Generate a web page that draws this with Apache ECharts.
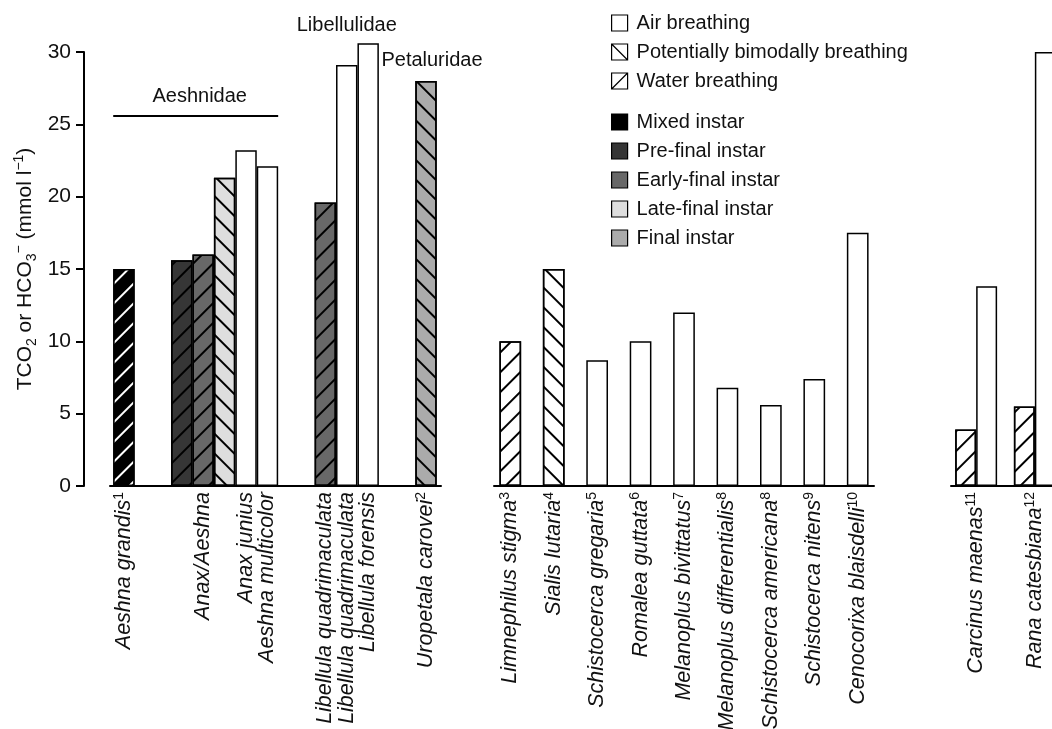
<!DOCTYPE html>
<html>
<head>
<meta charset="utf-8">
<script src="https://cdn.jsdelivr.net/npm/echarts@6/dist/echarts.min.js"></script>
<style>
  html, body { margin: 0; padding: 0; background: #ffffff; }
  #chart { width: 1052px; height: 729px; }
</style>
</head>
<body>
<div id="chart"></div>
<script>
// ---------- data ----------
const yTicks = [0, 5, 10, 15, 20, 25, 30];

const breathingModes = ['air', 'bimodal', 'water'];
const breathingNames = ['Air breathing', 'Potentially bimodally breathing', 'Water breathing'];
const instarStages = ['mixed', 'preFinal', 'earlyFinal', 'lateFinal', 'final'];
const instarNames = ['Mixed instar', 'Pre-final instar', 'Early-final instar', 'Late-final instar', 'Final instar'];

// Odonata
const odonataTaxa = ['Aeshna grandis', 'Anax/Aeshna', 'Anax junius', 'Aeshna multicolor',
  'Libellula quadrimaculata', 'Libellula quadrimaculata', 'Libellula forensis', 'Uropetala carovei'];
const odonataRefs = ['1', '', '', '', '', '', '', '2'];
const odonataFamily = ['Aeshnidae', 'Aeshnidae', 'Aeshnidae', 'Aeshnidae',
  'Libellulidae', 'Libellulidae', 'Libellulidae', 'Petaluridae'];
const odonataCluster = [0, 1, 1, 1, 2, 2, 2, 3];
const odonataValues = [[15.0], [15.6, 16.0, 21.3], [23.2], [22.1], [19.6], [29.1], [30.6], [28.0]];
const odonataInstar = [['mixed'], ['preFinal', 'earlyFinal', 'lateFinal'], ['none'], ['none'],
  ['earlyFinal'], ['none'], ['none'], ['final']];
const odonataBreathing = [['water'], ['water', 'water', 'bimodal'], ['air'], ['air'],
  ['water'], ['air'], ['air'], ['bimodal']];

// Other insects
const insectTaxa = ['Limnephilus stigma', 'Sialis lutaria', 'Schistocerca gregaria', 'Romalea guttata',
  'Melanoplus bivittatus', 'Melanoplus differentialis', 'Schistocerca americana', 'Schistocerca nitens',
  'Cenocorixa blaisdelli'];
const insectRefs = ['3', '4', '5', '6', '7', '8', '8', '9', '10'];
const insectValues = [10.0, 15.0, 8.7, 10.0, 12.0, 6.8, 5.6, 7.4, 17.5];
const insectBreathing = ['water', 'bimodal', 'air', 'air', 'air', 'air', 'air', 'air', 'air'];

// Crab and frog
const otherTaxa = ['Carcinus maenas', 'Rana catesbiana'];
const otherRefs = ['11', '12'];
const otherValues = [[3.9, 13.8], [5.5, 30.0]];
const otherBreathing = [['water', 'air'], ['water', 'air']];

// ---------- styling ----------
const FONT = '"Liberation Sans", Arial, Helvetica, sans-serif';
const INK = '#111111';
const instarFill = {
  none: '#ffffff', mixed: '#000000', preFinal: '#363636',
  earlyFinal: '#686868', lateFinal: '#dedede', final: '#ababab'
};
const hatchTurn = { air: 0, bimodal: 1, water: -1 };
// Legend keys: a box, with one diagonal for the hatched modes
const breathingIcon = {
  air: 'rect',
  bimodal: 'path://M0,0L16,0L16,16L0,16ZM0,0L16,16',
  water: 'path://M0,0L16,0L16,16L0,16ZM0,16L16,0'
};

function barStyle(instar, mode) {
  const style = {
    color: instarFill[instar],
    borderColor: '#000000',
    borderWidth: 1.5
  };
  const turn = hatchTurn[mode];
  if (turn) {
    style.decal = {
      symbol: 'rect', symbolSize: 1,
      color: instar === 'mixed' ? '#ffffff' : '#000000',
      dashArrayX: [1, 0], dashArrayY: [1.4, 11.4],
      rotation: turn * Math.PI / 4
    };
  }
  return style;
}

// ---------- panel geometry (in bar-width units) ----------
const panels = [
  { left: 110, width: 331, lead: 0.15, gap: 1.7, trail: 0.2 },
  { left: 494, width: 380, lead: 0.25, gap: 1.0, trail: 0.25 },
  { left: 951, width: 109, lead: 0.2, gap: 0.8, trail: 0.2 }
];
const GRID_TOP = 52, GRID_HEIGHT = 434;

// Place bars side by side; a new cluster starts after a gap.
function layoutPanel(values, clusters, cfg) {
  let x = cfg.lead, prev = null;
  const centers = [], labelAt = [], starts = [], ends = [];
  values.forEach((vals, t) => {
    if (prev !== null && clusters[t] !== prev) x += cfg.gap;
    prev = clusters[t];
    starts.push(x);
    vals.forEach((v, k) => { centers.push({ t, k, x: x + 0.5, v }); x += 1; });
    ends.push(x);
    labelAt.push((starts[t] + x) / 2);
  });
  return { centers, labelAt, starts, ends, span: x + cfg.trail };
}

function labelText(name, ref) {
  return ref ? '{it|' + name + '}{sup|' + ref + '}' : '{it|' + name + '}';
}

const panelData = [
  {
    values: odonataValues, clusters: odonataCluster,
    instar: odonataInstar, breathing: odonataBreathing,
    taxa: odonataTaxa, refs: odonataRefs
  },
  {
    values: insectValues.map(v => [v]), clusters: insectTaxa.map((_, i) => i),
    instar: insectValues.map(() => ['none']), breathing: insectBreathing.map(b => [b]),
    taxa: insectTaxa, refs: insectRefs
  },
  {
    values: otherValues, clusters: otherTaxa.map((_, i) => i),
    instar: otherValues.map(vs => vs.map(() => 'none')), breathing: otherBreathing,
    taxa: otherTaxa, refs: otherRefs
  }
];

const grids = [], xAxes = [], yAxes = [], series = [];
const layouts = [];

panelData.forEach((pd, p) => {
  const cfg = panels[p];
  const lay = layoutPanel(pd.values, pd.clusters, cfg);
  layouts.push(lay);
  const unitPx = cfg.width / lay.span;
  const labelMap = new Map();
  lay.labelAt.forEach((x, t) => labelMap.set(x.toFixed(4), labelText(pd.taxa[t], pd.refs[t])));

  grids.push({
    left: cfg.left, top: GRID_TOP, width: cfg.width, height: GRID_HEIGHT,
    containLabel: false, outerBoundsMode: 'none'
  });
  xAxes.push({
    type: 'value', gridIndex: p, min: 0, max: lay.span,
    axisLine: { show: true, onZero: false, lineStyle: { color: '#000', width: 2 } },
    axisTick: { show: false },
    splitLine: { show: false },
    axisLabel: {
      customValues: lay.labelAt,
      rotate: 90, margin: 6, color: INK, fontFamily: FONT,
      formatter: v => labelMap.get(Number(v).toFixed(4)) || '',
      rich: {
        it: { fontStyle: 'italic', fontSize: 21.5, fontFamily: FONT, color: INK, lineHeight: 24 },
        sup: { fontSize: 14, fontFamily: FONT, color: INK, verticalAlign: 'top', lineHeight: 21 }
      }
    }
  });
  yAxes.push(p === 0 ? {
    type: 'value', gridIndex: 0, min: 0, max: 30, interval: 5, offset: 26,
    axisLine: { show: true, onZero: false, lineStyle: { color: '#000', width: 2 } },
    axisTick: { show: true, length: 8, lineStyle: { color: '#000', width: 2 } },
    splitLine: { show: false },
    axisLabel: { fontSize: 21, color: INK, fontFamily: FONT, margin: 13,
      customValues: yTicks },
    name: 'TCO{sub|2} or HCO{sub|3}{sup|\u2212} (mmol l{sup|\u22121})',
    nameLocation: 'middle', nameRotate: 90, nameGap: 45,
    nameTextStyle: {
      fontSize: 21, color: INK, fontFamily: FONT, lineHeight: 27,
      rich: {
        sub: { fontSize: 14, fontFamily: FONT, color: INK, verticalAlign: 'bottom', lineHeight: 13 },
        sup: { fontSize: 14, fontFamily: FONT, color: INK, verticalAlign: 'top', lineHeight: 15 }
      }
    }
  } : {
    type: 'value', gridIndex: p, min: 0, max: 30, show: false
  });

  series.push({
    type: 'bar', xAxisIndex: p, yAxisIndex: p,
    barWidth: unitPx, silent: true, animation: false, clip: false,
    data: lay.centers.map(c => ({
      value: [c.x, c.v],
      itemStyle: barStyle(pd.instar[c.t][c.k], pd.breathing[c.t][c.k])
    }))
  });
});

// ---------- family annotations on the Odonata panel ----------
(function () {
  const lay = layouts[0];
  const famSpan = {};
  odonataFamily.forEach((f, t) => {
    if (!famSpan[f]) famSpan[f] = [lay.starts[t], lay.ends[t]];
    famSpan[f][1] = lay.ends[t];
  });
  const mid = f => (famSpan[f][0] + famSpan[f][1]) / 2;
  const ruleLevel = 25.6;
  series[0].markLine = {
    silent: true, symbol: 'none', animation: false,
    lineStyle: { color: '#000', width: 2, type: 'solid' },
    label: { show: false },
    data: [[{ coord: [famSpan.Aeshnidae[0], ruleLevel] }, { coord: [famSpan.Aeshnidae[1], ruleLevel] }]]
  };
  series[0].markPoint = {
    silent: true, symbol: 'rect', symbolSize: 0, animation: false,
    label: { show: true, position: 'inside', formatter: '{b}', color: INK, fontSize: 20, fontFamily: FONT },
    data: [
      { name: 'Aeshnidae', coord: [mid('Aeshnidae'), ruleLevel], label: { offset: [4, -19] } },
      { name: 'Libellulidae', coord: [mid('Libellulidae'), 30], label: { offset: [0, -27] } },
      { name: 'Petaluridae', coord: [mid('Petaluridae'), 30], label: { offset: [6, 8] } }
    ]
  };
})();

// ---------- legend keys (hidden grid) ----------
grids.push({ left: 0, top: 0, width: 1, height: 1, show: false });
xAxes.push({ type: 'category', gridIndex: 3, data: ['k'], show: false });
yAxes.push({ type: 'value', gridIndex: 3, show: false });
breathingModes.forEach((m, i) => {
  series.push({ type: 'bar', name: breathingNames[i], xAxisIndex: 3, yAxisIndex: 3, data: [],
    itemStyle: barStyle('none', 'air') });
});
instarStages.forEach((s, i) => {
  series.push({ type: 'bar', name: instarNames[i], xAxisIndex: 3, yAxisIndex: 3, data: [],
    itemStyle: barStyle(s, 'air') });
});

const legendCommon = {
  orient: 'vertical', left: 611, icon: 'rect', itemWidth: 16, itemHeight: 16, itemGap: 9,
  selectedMode: false, padding: 0,
  textStyle: { fontSize: 20, color: INK, fontFamily: FONT, padding: [0, 0, 0, 4] },
  itemStyle: { borderColor: '#000', borderWidth: 1.2 }
};

const chart = echarts.init(document.getElementById('chart'), null, { renderer: 'canvas' });
chart.setOption({
  animation: false,
  backgroundColor: '#ffffff',
  textStyle: { fontFamily: FONT },
  grid: grids,
  xAxis: xAxes,
  yAxis: yAxes,
  legend: [
    Object.assign({}, legendCommon, {
      top: 13,
      data: breathingNames.map((n, i) => ({ name: n, icon: breathingIcon[breathingModes[i]] }))
    }),
    Object.assign({}, legendCommon, { top: 112, data: instarNames })
  ],
  series: series
});
</script>
</body>
</html>
